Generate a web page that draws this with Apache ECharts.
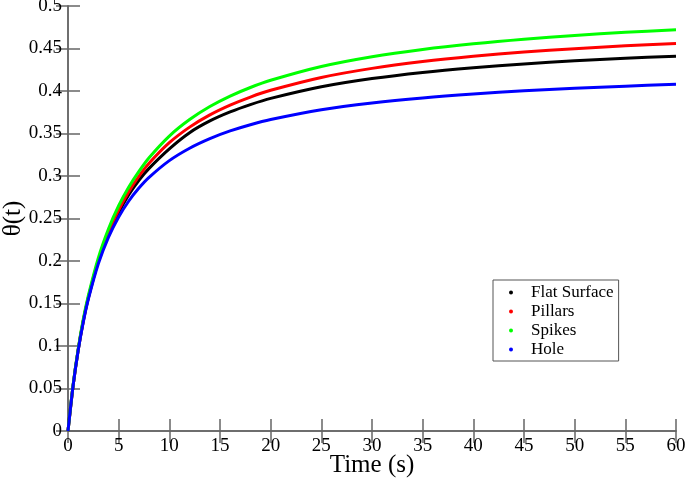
<!DOCTYPE html>
<html><head><meta charset="utf-8">
<script src="https://cdn.jsdelivr.net/npm/echarts@6/dist/echarts.min.js"></script>
<style>html,body{margin:0;padding:0;background:#fff}#c{width:685px;height:480px}</style>
</head><body><div id="c"></div>
<script>
const times = [0,0.5,1,1.5,2,3,4,5,6,7,8,10,12,14,16,18,20,25,30,35,40,45,50,55,60];
const flatSurface = [0,0.053,0.095,0.129,0.156,0.200,0.232,0.257,0.278,0.295,0.309,0.332,0.351,0.3648,0.3754,0.3840,0.3913,0.4050,0.4147,0.4219,0.4274,0.4319,0.4355,0.4385,0.441];
const pillars = [0,0.053,0.095,0.129,0.157,0.201,0.234,0.260,0.2815,0.2997,0.3150,0.3392,0.3575,0.3719,0.3834,0.3929,0.4008,0.4159,0.4266,0.4346,0.4408,0.4458,0.4498,0.4531,0.456];
const spikes = [0,0.054,0.096,0.131,0.159,0.204,0.238,0.265,0.287,0.3054,0.3215,0.3470,0.3664,0.3817,0.3940,0.4041,0.4126,0.4288,0.4403,0.4489,0.4556,0.4610,0.4653,0.4690,0.472];
const hole = [0,0.0529,0.0943,0.1276,0.1548,0.1970,0.2280,0.2517,0.2706,0.2858,0.2984,0.3181,0.3327,0.3440,0.3530,0.3603,0.3664,0.3779,0.3859,0.3919,0.3965,0.4002,0.4031,0.4056,0.408];
const seriesNames = ['Flat Surface','Pillars','Spikes','Hole'];
const seriesColors = ['#000000','#ff0000','#00ff00','#0000ff'];
const seriesData = [flatSurface, pillars, spikes, hole];

const font = 'Liberation Serif';
const axisColor = '#666';
const chart = echarts.init(document.getElementById('c'));
const mk = arr => times.map((t,i)=>[t, arr[i]]);
chart.setOption({
  animation:false,
  backgroundColor:'#fff',
  grid:{left:68,right:9,top:6,bottom:49,containLabel:false,outerBoundsMode:'none'},
  legend:{
    orient:'vertical', left:493, top:280,
    data:seriesNames.map(n=>({name:n,icon:'circle'})),
    itemWidth:4, itemHeight:4, itemGap:2,
    padding:[4,5,3,16],
    borderColor:'#555', borderWidth:1,
    textStyle:{fontFamily:font,fontSize:17,color:'#000',lineHeight:17,padding:[0,0,0,13]}
  },
  xAxis:[{
    type:'value', min:0, max:60, interval:5,
    name:'Time (s)', nameLocation:'middle', nameGap:22, nameMoveOverlap:false,
    nameTextStyle:{fontFamily:font,fontSize:25,color:'#000'},
    axisLine:{show:true,lineStyle:{color:axisColor,width:1.5}},
    axisTick:{show:true,inside:true,length:12,lineStyle:{color:axisColor,width:1.5}},
    axisLabel:{fontFamily:font,fontSize:19,color:'#000',margin:6},
    splitLine:{show:false}
  },{
    type:'value', min:0, max:60, interval:5, position:'top',
    axisLine:{show:true,lineStyle:{color:axisColor,width:1.5}},
    axisTick:{show:true,inside:true,length:12,lineStyle:{color:axisColor,width:1.5}},
    axisLabel:{show:false}, splitLine:{show:false}
  }],
  yAxis:[{
    type:'value', min:0, max:0.5, interval:0.05,
    name:'θ(t)', nameLocation:'middle', nameGap:42, nameMoveOverlap:false,
    nameTextStyle:{fontFamily:font,fontSize:25,color:'#000'},
    axisLine:{show:true,lineStyle:{color:axisColor,width:1.5}},
    axisTick:{show:true,inside:true,length:12,lineStyle:{color:axisColor,width:1.5}},
    axisLabel:{fontFamily:font,fontSize:19,color:'#000',margin:6},
    splitLine:{show:false}
  },{
    type:'value', min:0, max:0.5, interval:0.05, position:'right',
    axisLine:{show:true,lineStyle:{color:axisColor,width:1.5}},
    axisTick:{show:true,inside:true,length:12,lineStyle:{color:axisColor,width:1.5}},
    axisLabel:{show:false}, splitLine:{show:false}
  }],
  series: seriesNames.map((n,i)=>({
    name:n, type:'line', data:mk(seriesData[i]), smooth:0.3,
    showSymbol:false, symbol:'circle', symbolSize:4,
    color:seriesColors[i],
    lineStyle:{width:3,color:seriesColors[i]},
    xAxisIndex:0, yAxisIndex:0, z:2+i
  }))
});
</script></body></html>
